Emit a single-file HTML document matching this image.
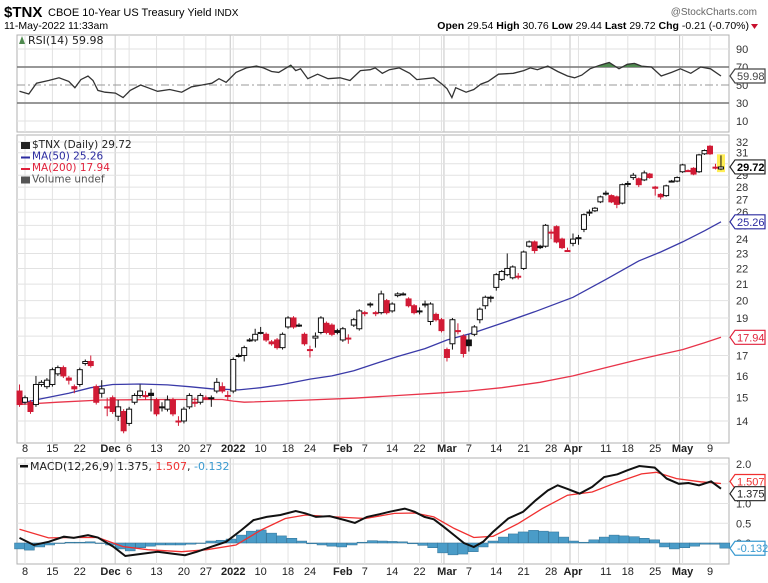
<!DOCTYPE html>
<html><head><meta charset="utf-8"><style>
body{margin:0;background:#fff;}
svg{display:block;font-family:"Liberation Sans","DejaVu Sans",sans-serif;}
</style></head><body>
<svg id="chart" width="768" height="583" viewBox="0 0 768 583" xmlns="http://www.w3.org/2000/svg">
<g>
<text x="4" y="17" font-size="15" font-weight="bold" fill="#000">$TNX</text>
<text x="48" y="16" font-size="11" fill="#000">CBOE 10-Year US Treasury Yield <tspan font-size="10">INDX</tspan></text>
<text x="757" y="15" font-size="10" fill="#666" text-anchor="end">@StockCharts.com</text>
<text x="4" y="29" font-size="10.5" fill="#000">11-May-2022 11:33am</text>
<text x="749" y="29" font-size="10.5" fill="#000" text-anchor="end"><tspan font-weight="bold">Open</tspan> 29.54 <tspan font-weight="bold">High</tspan> 30.76 <tspan font-weight="bold">Low</tspan> 29.44 <tspan font-weight="bold">Last</tspan> 29.72 <tspan font-weight="bold">Chg</tspan> -0.21 (-0.70%)</text>
<path d="M751 24 L758 24 L754.5 29 Z" fill="#c8102e"/>
</g>
<g id="grid"></g>
<g id="rsi"></g>
<g id="main"></g>
<g id="macd"></g>
<g id="axes"></g>
</svg>
<script>
// ---------- DATA ----------
const barIdx = [];
for (let i = -1; i <= 127; i++) barIdx.push(i);
const opens = [15.3,14.8,14.8,14.7,15.6,15.5,15.6,16.1,16.4,15.9,15.5,15.6,16.6,16.7,15.5,15.2,14.6,15.0,14.2,14.4,13.9,14.8,15.1,15.1,15.2,14.9,14.6,14.5,14.9,14.0,14.0,14.6,14.8,14.8,15.0,15.0,15.3,15.5,15.1,15.3,17.0,17.0,17.8,17.8,18.2,18.1,17.7,17.8,17.4,18.5,19.0,18.6,18.1,17.3,17.9,18.2,18.7,18.6,18.3,17.8,17.9,18.6,18.4,19.3,19.8,19.3,19.3,20.0,19.4,20.3,20.4,20.1,19.7,19.4,19.8,18.8,19.2,18.9,17.3,17.6,18.3,18.0,17.8,18.1,18.9,19.7,20.2,20.8,21.3,21.6,21.4,21.5,22.0,23.5,23.8,23.5,23.5,24.5,24.9,24.0,23.2,23.7,24.1,24.7,26.0,26.1,26.8,27.5,27.3,27.2,26.7,28.3,28.8,28.7,28.6,29.1,28.0,27.4,27.3,28.5,28.5,29.3,29.4,29.6,29.3,30.9,31.6,29.7,29.54];
const closes = [14.7,15.0,14.4,15.6,15.7,15.8,16.3,16.4,16.0,15.8,15.4,16.3,16.7,16.5,14.8,15.4,14.55,14.4,14.6,13.6,14.5,15.1,15.3,15.05,15.1,14.3,14.6,14.9,14.3,14.0,14.5,15.1,14.8,15.1,14.95,15.0,15.7,15.3,15.1,16.8,17.0,17.4,17.8,18.1,18.2,17.8,17.6,17.4,18.1,19.0,18.5,18.6,17.6,17.3,18.0,19.0,18.2,18.1,18.2,18.4,17.9,18.9,19.4,19.3,19.8,19.3,20.4,19.3,19.8,20.4,20.4,19.7,19.3,19.4,19.8,19.8,18.9,18.3,16.9,18.9,18.3,17.1,17.5,18.5,19.5,20.2,20.2,21.6,21.8,22.0,22.1,21.5,23.1,23.8,23.2,23.4,25.0,24.5,23.8,23.4,23.2,24.0,24.1,25.8,26.0,26.3,27.2,27.5,26.8,26.6,28.2,28.3,29.0,28.2,29.2,28.8,27.9,27.2,28.1,28.5,28.8,29.9,29.4,29.1,30.8,31.2,30.9,29.7,29.72];
const highs = [15.6,15.1,14.9,16.0,15.8,15.9,16.4,16.5,16.5,16.0,15.6,16.4,16.8,17.0,15.6,15.8,15.0,15.1,14.9,14.5,14.6,15.2,15.6,15.3,15.4,15.0,14.8,15.1,15.0,14.2,14.6,15.2,15.0,15.2,15.1,15.1,15.9,15.7,15.3,16.9,17.1,17.5,17.9,18.4,18.5,18.2,17.8,17.9,18.2,19.1,19.1,18.7,18.2,17.5,18.2,19.1,18.8,18.7,18.4,18.5,18.1,19.0,19.5,19.4,19.9,19.4,20.6,20.1,19.9,20.5,20.5,20.2,19.8,19.6,20.0,19.9,19.3,19.0,17.4,19.0,18.7,18.1,18.1,18.6,19.6,20.3,20.3,21.7,21.9,23.0,22.2,21.7,23.2,23.9,23.9,23.6,25.1,24.7,25.0,24.1,23.4,24.4,24.3,25.9,26.2,26.4,27.3,27.7,27.4,27.3,28.3,28.5,29.2,28.8,29.4,29.2,28.1,27.5,28.2,28.6,28.9,30.0,29.5,29.7,30.9,31.3,31.7,30.0,30.76];
const lows = [14.6,14.7,14.3,14.6,15.5,15.4,15.5,16.0,15.9,15.6,15.2,15.5,16.5,16.4,14.7,15.0,14.2,14.3,14.0,13.5,13.8,14.7,15.0,14.9,14.4,14.2,14.4,14.4,14.2,13.8,13.9,14.5,14.6,14.7,14.9,14.6,15.2,15.2,14.9,15.2,16.9,16.7,17.7,17.7,18.1,17.7,17.5,17.3,17.3,18.4,18.4,18.5,17.5,16.9,17.4,18.1,18.1,18.0,18.1,17.7,17.6,18.5,18.3,19.1,19.6,19.1,19.2,19.2,19.3,20.2,20.3,19.6,19.2,19.2,19.6,18.6,18.8,18.2,16.7,17.3,18.1,16.9,17.2,18.0,18.7,19.5,19.9,20.6,21.2,21.5,21.3,21.3,21.9,23.4,23.0,23.3,23.4,24.0,23.7,23.3,23.1,23.5,23.6,24.5,25.7,26.0,26.7,27.3,26.7,26.3,26.6,28.0,28.6,28.0,28.5,28.7,27.3,27.0,27.2,28.4,28.4,29.2,29.3,29.0,29.2,30.8,30.8,29.5,29.44];
const ma50Idx = [-1,3,8,12,16,21,26,30,34,39,43,47,52,56,60,64,68,73,77,82,87,93,100,106,112,116,120,124,127];
const ma50Val = [14.75,14.95,15.2,15.45,15.6,15.62,15.58,15.5,15.4,15.35,15.45,15.6,15.85,16.0,16.25,16.6,16.95,17.35,17.8,18.2,18.7,19.35,20.2,21.3,22.5,23.1,23.8,24.6,25.26];
const ma200Idx = [-1,6,14,26,36,38,40,50,60,68,75,81,87,94,100,106,112,116,120,124,127];
const ma200Val = [14.7,14.8,14.9,14.92,14.92,14.85,14.8,14.88,14.98,15.1,15.2,15.3,15.45,15.7,16.0,16.4,16.8,17.05,17.3,17.65,17.94];
const priceTicks = [14,15,16,17,18,19,20,21,22,23,24,25,26,27,28,29,30,31,32];
const rsiIdx = [-1,0.7,2.1,4.3,6.2,8,9.1,10.2,11.5,12.4,13.3,14.6,16.5,17.9,19.2,21.1,22.4,24.2,26.4,28.6,30.4,32.3,34.1,35.4,36.7,38.5,40.4,42.2,43.5,45,46.3,48.5,49.4,50.3,51.6,53.4,55.3,57.5,59.3,61.2,63,63.9,65.2,66.5,68.3,70.2,71.5,74.6,76.1,77,77.9,78.6,80.5,81.9,83.2,84.5,86.4,89.1,91,92.2,93.5,95.4,97.2,99,100.3,101.6,103.1,104.9,106.6,108.4,109.9,111.2,112.5,114.3,116.1,118,119.6,121.5,123.3,125.1,127];
const rsiVal = [43,40,52,55,58,54,47,56,60,55,44,42,41,36,44,50,47,43,45,42,48,50,52,57,53,64,69,71,69,65,64,72,66,68,57,62,57,58,55,66,67,69,63,67,69,63,56,58,51,46,36,47,42,45,51,54,62,63,66,69,67,71,65,60,58,61,68,72,75,68,73,74,71,70,60,64,68,63,70,68,59.98];
const rsiTicks = [10,30,50,70,90];
const macdIdx = [-1,1.6,4.3,7.1,8.9,11.5,13.3,16.1,18.3,21.4,24.2,27,29.2,31.4,34.1,36.7,39.5,41.7,44.1,46.6,49.4,51.2,53.1,55.6,58.4,60.2,62.4,64.7,66.5,69.3,71.1,72.9,74.6,76.4,78.3,80.1,81.9,83.6,85.4,88.2,90.9,93.2,95.4,97.2,99,101.2,103.5,105.7,108.1,109.9,112.1,114.9,117.1,119.3,121.1,123,125.2,127];
const macdVal = [0.13,-0.05,0.03,0.16,0.13,0.2,0.14,-0.09,-0.33,-0.27,-0.22,-0.27,-0.31,-0.22,-0.09,0.03,0.33,0.58,0.66,0.71,0.81,0.75,0.66,0.68,0.58,0.51,0.66,0.73,0.79,0.87,0.79,0.66,0.6,0.41,0.2,0,-0.1,0.03,0.28,0.62,0.79,1.08,1.33,1.46,1.37,1.25,1.42,1.67,1.74,1.84,1.95,1.91,1.63,1.5,1.52,1.46,1.56,1.375];
const signalIdx = [-1,4.3,8.9,13.3,17.9,22.4,28.6,33.2,38.5,43.1,47.5,51.2,56.6,62.1,67.4,71.1,74.6,78.3,81.9,85.4,90,94.4,99,103.5,108.1,112.5,115.2,118.9,123.3,127];
const signalVal = [0.35,0.13,0.14,0.14,-0.09,-0.17,-0.22,-0.17,-0.05,0.33,0.62,0.71,0.66,0.62,0.75,0.76,0.66,0.37,0.14,0.17,0.49,0.87,1.21,1.29,1.54,1.75,1.79,1.63,1.55,1.507];
const histIdx = [-1,0.8,2.7,4.5,6.4,8.2,10,11.9,13.7,15.6,17.4,19.2,21.1,22.9,24.7,26.6,28.4,30.3,32.1,33.9,35.8,37.6,39.5,41.3,43.1,45,46.8,48.7,50.5,52.3,54.2,56,57.8,59.7,61.5,63.4,65.2,67,68.9,70.7,72.6,74.4,76.2,78.1,79.9,81.8,83.6,85.4,87.3,89.1,90.9,92.8,94.6,96.5,98.3,100.1,102,103.8,105.7,107.5,109.3,111.2,113,114.9,116.7,118.5,120.4,122.2,124.1,125.9,127.7];
const histVal = [-0.15,-0.18,-0.1,-0.05,0,0.02,0.02,0.03,0,-0.05,-0.15,-0.2,-0.12,-0.08,-0.05,-0.05,-0.05,-0.03,0,0.05,0.07,0.1,0.2,0.3,0.33,0.25,0.18,0.12,0.05,-0.02,-0.05,-0.08,-0.1,-0.05,0.02,0.06,0.05,0.04,0.03,-0.02,-0.06,-0.12,-0.25,-0.3,-0.28,-0.22,-0.1,0.05,0.15,0.23,0.28,0.32,0.3,0.28,0.15,0.05,0.02,0.08,0.15,0.2,0.18,0.16,0.12,0.08,-0.1,-0.15,-0.12,-0.08,-0.03,-0.03,-0.13];
const macdTicks = [0,0.5,1,1.5,2];
const weekIdx = [0,5,10,14,19,24,29,33,38,43,48,52,57,62,67,72,76,81,86,91,96,101,106,110,115,120,125];
const monthIdx = [17,38,58,77,100,120];
const xLabels = ["8","15","22","Dec","6","13","20","27","2022","10","18","24","Feb","7","14","22","Mar","7","14","21","28","Apr","11","18","25","May","9"];
const xLabelIdx = [0,5,10,15.6,19,24,29,33,38,43,48,52,58,62,67,72,77,81,86,91,96,100,106,110,115,120,125];
const xLabelBold = [0,0,0,1,0,0,0,0,1,0,0,0,1,0,0,0,1,0,0,0,0,1,0,0,0,1,0];

// ---------- SCALES ----------
const NS = "http://www.w3.org/2000/svg";
const L = 17, R = 729;
const RSI_T = 35, RSI_B = 132, MAIN_T = 135, MAIN_B = 443, MACD_T = 458, MACD_B = 564;
const xs = i => 25 + i * 5.48;
const yP = v => 142 + (Math.log(32) - Math.log(v)) * 337.5;
const yR = v => 85 - (v - 50) * 0.9;
const yM = v => 543 - v * 39.5;
function mk(tag, attrs, parent) {
  const e = document.createElementNS(NS, tag);
  for (const k in attrs) e.setAttribute(k, attrs[k]);
  parent.appendChild(e);
  return e;
}
const grid = document.getElementById('grid');
const rsiG = document.getElementById('rsi');
const mainG = document.getElementById('main');
const macdG = document.getElementById('macd');
const axesG = document.getElementById('axes');

[[RSI_T, RSI_B, 'rsi-panel'], [MAIN_T, MAIN_B, 'price-panel'], [MACD_T, MACD_B, 'macd-panel']].forEach(p => {
  const r = mk('rect', {x: L, y: p[0], width: R - L, height: p[1] - p[0], fill: '#fff', stroke: '#b0b0b0', 'stroke-width': 1}, grid);
  
  
});
[[RSI_T, RSI_B], [MAIN_T, MAIN_B], [MACD_T, MACD_B]].forEach(p => {
  weekIdx.forEach(i => {
    const l = mk('line', {x1: xs(i), x2: xs(i), y1: p[0], y2: p[1], stroke: '#e2e2e2'}, grid);
    
    
  });
  monthIdx.forEach(i => {
    const l = mk('line', {x1: xs(i) - 3, x2: xs(i) - 3, y1: p[0], y2: p[1], stroke: '#c4c4c4'}, grid);
    
    
  });
});
priceTicks.forEach(v => {
  const l = mk('line', {x1: L, x2: R, y1: yP(v), y2: yP(v), stroke: '#e2e2e2'}, grid);
  
  
  const t = mk('text', {x: 736, y: yP(v) + 4, 'font-size': 11, fill: '#333'}, axesG);
  t.textContent = v;
  
  
});
rsiTicks.forEach(v => {
  const dark = v === 70 || v === 30;
  const l = mk('line', {x1: L, x2: R, y1: yR(v), y2: yR(v), stroke: dark ? '#777' : (v === 50 ? '#999' : '#e2e2e2'), 'stroke-width': dark ? 1.5 : 1}, grid);
  if (v === 50) l.setAttribute('stroke-dasharray', '8 3 2 3');
  
  
  const t = mk('text', {x: 736, y: yR(v) + 4, 'font-size': 11, fill: '#333'}, axesG);
  t.textContent = v;
  
  
});
macdTicks.forEach(v => {
  const l = mk('line', {x1: L, x2: R, y1: yM(v), y2: yM(v), stroke: '#e2e2e2'}, grid);
  
  
  const t = mk('text', {x: 736, y: yM(v) + 4, 'font-size': 11, fill: '#333'}, axesG);
  t.textContent = v.toFixed(1);
  
  
});
[452, 575].forEach(yy => {
  xLabels.forEach((s, k) => {
    const t = mk('text', {x: xs(xLabelIdx[k]), y: yy, 'font-size': 11, fill: '#222', 'text-anchor': 'middle', 'font-weight': xLabelBold[k] ? 'bold' : 'normal'}, axesG);
    t.textContent = s;
    
    
  });
});

function pathFrom(idx, vals, yf) {
  return idx.map((i, k) => (k ? 'L' : 'M') + xs(i).toFixed(1) + ' ' + yf(vals[k]).toFixed(1)).join(' ');
}
const defs = mk('defs', {}, rsiG);
const cp = mk('clipPath', {id: 'above70'}, defs);
mk('rect', {x: L, y: RSI_T, width: R - L, height: yR(70) - RSI_T}, cp);
const rsiFill = mk('path', {d: pathFrom(rsiIdx, rsiVal, yR) + ` L${xs(127)} ${yR(70)} L${xs(-1)} ${yR(70)} Z`, fill: '#4f8a4f', 'clip-path': 'url(#above70)'}, rsiG);


const rsiLine = mk('path', {d: pathFrom(rsiIdx, rsiVal, yR), fill: 'none', stroke: '#333', 'stroke-width': 1.3}, rsiG);


const rsiLbl = mk('text', {x: 28, y: 44, 'font-size': 11, fill: '#222', 'font-family': 'DejaVu Sans, sans-serif'}, rsiG);
rsiLbl.textContent = 'RSI(14) 59.98';


const rsiIcon = mk('path', {d: 'M19 44 L22 36 L25 44 Z', fill: '#4f8a4f'}, rsiG);



const ma200 = mk('path', {d: pathFrom(ma200Idx, ma200Val, yP), fill: 'none', stroke: '#e8344a', 'stroke-width': 1.3}, mainG);


const ma50 = mk('path', {d: pathFrom(ma50Idx, ma50Val, yP), fill: 'none', stroke: '#3a3aa8', 'stroke-width': 1.3}, mainG);


const lastI = barIdx[barIdx.length - 1];
const hl = mk('rect', {x: xs(lastI) - 4, y: yP(highs[highs.length - 1]) - 1, width: 8, height: yP(lows[lows.length - 1]) - yP(highs[highs.length - 1]) + 3, fill: '#ffee55'}, mainG);


barIdx.forEach((i, k) => {
  const o = opens[k], c = closes[k], h = highs[k], lo = lows[k];
  const prev = k > 0 ? closes[k - 1] : o;
  const col = c < prev ? '#d11a35' : '#111';
  const g = mk('g', {}, mainG);
  
  
  const x = xs(i);
  mk('line', {x1: x, x2: x, y1: yP(h), y2: yP(lo), stroke: col, 'stroke-width': 1}, g);
  const top = yP(Math.max(o, c)), bot = yP(Math.min(o, c));
  const hgt = Math.max(bot - top, 1);
  mk('rect', {x: x - 2.5, y: top, width: 5, height: hgt, fill: c < o ? col : '#fff', stroke: col, 'stroke-width': 1}, g);
});
const leg = [['$TNX (Daily) 29.72', '#222', 'price-legend'], ['MA(50) 25.26', '#2b2ba0', 'ma50-legend'], ['MA(200) 17.94', '#e0213b', 'ma200-legend'], ['Volume undef', '#555', 'volume-legend']];
leg.forEach((l, k) => {
  const t = mk('text', {x: 32, y: 148 + k * 11.5, 'font-size': 10.5, fill: l[1], 'font-family': 'DejaVu Sans, sans-serif'}, mainG);
  t.textContent = l[0];
  
  
  const ic = mk('rect', {x: 21, y: 142 + k * 11.5, width: 9, height: k === 1 || k === 2 ? 2 : 7, fill: l[1]}, mainG);
  if (k === 1 || k === 2) ic.setAttribute('y', 145 + k * 11.5);
  
  
});

histIdx.forEach((i, k) => {
  const v = histVal[k];
  const y0 = yM(0), y1 = yM(v);
  const b = mk('rect', {x: xs(i) - 5, y: Math.min(y0, y1), width: 10, height: Math.max(Math.abs(y1 - y0), 0.5), fill: '#4a9cc8', stroke: '#2e6f93', 'stroke-width': 0.5}, macdG);
  
  
});
const sig = mk('path', {d: pathFrom(signalIdx, signalVal, yM), fill: 'none', stroke: '#f03030', 'stroke-width': 1.3}, macdG);


const ml = mk('path', {d: pathFrom(macdIdx, macdVal, yM), fill: 'none', stroke: '#111', 'stroke-width': 2}, macdG);


const ml2 = mk('text', {x: 30, y: 470, 'font-size': 11, fill: '#222', 'font-family': 'DejaVu Sans, sans-serif'}, macdG);
ml2.innerHTML = 'MACD(12,26,9) 1.375, <tspan fill="#f03030">1.507</tspan>, <tspan fill="#3a9ad0">-0.132</tspan>';


const mli = mk('rect', {x: 20, y: 465, width: 8, height: 2.5, fill: '#111'}, macdG);



function tag(y, txt, col, name, bold) {
  const g = mk('g', {}, axesG);
  
  
  mk('path', {d: `M730 ${y} L735 ${y - 7} L765 ${y - 7} L765 ${y + 7} L735 ${y + 7} Z`, fill: '#fff', stroke: col, 'stroke-width': 1.2}, g);
  const t = mk('text', {x: 737, y: y + 4, 'font-size': 11, fill: bold ? '#000' : col, 'font-weight': bold ? 'bold' : 'normal'}, g);
  t.textContent = txt;
}
tag(yR(59.98), '59.98', '#444', 'rsi-value-tag', false);
tag(yP(29.72), '29.72', '#222', 'last-price-tag', true);
tag(yP(25.26), '25.26', '#2b2ba0', 'ma50-value-tag', false);
tag(yP(17.94), '17.94', '#e0213b', 'ma200-value-tag', false);
tag(yM(1.507) - 2, '1.507', '#f03030', 'signal-value-tag', false);
tag(yM(1.375) + 5, '1.375', '#222', 'macd-value-tag', false);
tag(yM(-0.132), '-0.132', '#3a9ad0', 'histogram-value-tag', false);
</script>
</body></html>
